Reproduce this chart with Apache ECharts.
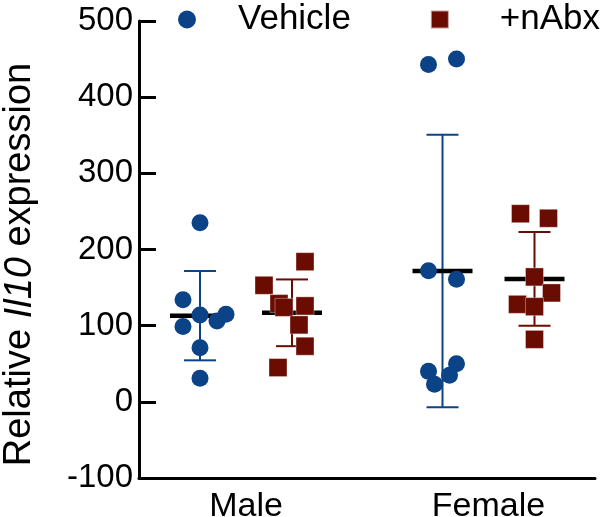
<!DOCTYPE html>
<html>
<head>
<meta charset="utf-8">
<script src="https://cdn.jsdelivr.net/npm/echarts@6/dist/echarts.min.js"></script>
<style>html,body{margin:0;padding:0;background:#fff;}#c{width:600px;height:517px;}</style>
</head>
<body>
<div id="c"></div>
<script>
// ---- data ----
var groups = ['Male', 'Female'];
var seriesNames = ['Vehicle', '+nAbx'];
var yTicks = [-100, 0, 100, 200, 300, 400, 500];
var maleVehicle = [235, 134, 114, 99, 106, 115, 71, 31];
var maleVehicleJitter = [0, -0.17, 0, -0.17, 0.17, 0.26, 0, 0];
var maleAbx = [184, 153, 129, 124, 126, 101, 73, 45];
var maleAbxJitter = [0.13, -0.28, -0.13, -0.08, 0.13, 0.07, 0.13, -0.14];
var femaleVehicle = [443, 450, 172, 161, 40, 50, 35, 23];
var femaleVehicleJitter = [-0.14, 0.14, -0.14, 0.14, -0.14, 0.14, 0.07, -0.08];
var femaleAbx = [247, 241, 164, 143, 128, 125, 82];
var femaleAbxJitter = [-0.14, 0.14, 0, 0.17, -0.17, 0, 0];

// ---- layout ----
var groupCenters = [1.07, 3.495];
var seriesOffsets = [-0.46, 0.46];
var colors = ['#0b4386', '#6b0c02'];
var FONT = 'Liberation Sans, Arial, sans-serif';

var sets = [
  [[maleVehicle, maleVehicleJitter], [maleAbx, maleAbxJitter]],
  [[femaleVehicle, femaleVehicleJitter], [femaleAbx, femaleAbxJitter]]
];

function mean(a){ var s=0; a.forEach(function(v){s+=v;}); return s/a.length; }
function sd(a){ var m=mean(a), s=0; a.forEach(function(v){s+=(v-m)*(v-m);}); return Math.sqrt(s/(a.length-1)); }

var scatterSeries = [], customSeries = [];
seriesNames.forEach(function(name, si){
  var pts = [], stats = [];
  groups.forEach(function(g, gi){
    var vals = sets[gi][si][0], jit = sets[gi][si][1];
    var cx = groupCenters[gi] + seriesOffsets[si];
    vals.forEach(function(v, k){ pts.push([cx + jit[k], v]); });
    stats.push([cx, mean(vals), sd(vals)]);
  });
  customSeries.push({
    type: 'custom',
    name: name + ' stats',
    z: 2,
    silent: true,
    data: stats,
    renderItem: function(params, api){
      var x = api.value(0), m = api.value(1), s = api.value(2);
      var pm = api.coord([x, m]), pt = api.coord([x, m + s]), pb = api.coord([x, m - s]);
      var col = colors[si];
      var st = {stroke: col, lineWidth: 2};
      return {type: 'group', children: [
        {type: 'line', shape: {x1: pt[0], y1: pt[1], x2: pb[0], y2: pb[1]}, style: st},
        {type: 'line', shape: {x1: pt[0]-16, y1: pt[1], x2: pt[0]+16, y2: pt[1]}, style: st},
        {type: 'line', shape: {x1: pb[0]-16, y1: pb[1], x2: pb[0]+16, y2: pb[1]}, style: st},
        {type: 'line', shape: {x1: pm[0]-30, y1: pm[1], x2: pm[0]+30, y2: pm[1]}, style: {stroke: '#000', lineWidth: 4.5}}
      ]};
    }
  });
  scatterSeries.push({
    type: 'scatter',
    name: name,
    z: 5,
    symbol: si === 0 ? 'circle' : 'rect',
    symbolSize: si === 0 ? 17 : 18,
    itemStyle: si === 0 ? {color: colors[si], opacity: 1} :
      {color: colors[si], opacity: 1, borderColor: 'rgba(255,255,255,0.6)', borderWidth: 0.6},
    data: pts
  });
});

var chart = echarts.init(document.getElementById('c'), null, {renderer: 'canvas'});
chart.setOption({
  animation: false,
  backgroundColor: '#fff',
  textStyle: {fontFamily: FONT},
  legend: {
    top: 2,
    left: 178,
    width: 470,
    padding: 0,
    itemWidth: 18,
    itemHeight: 18,
    itemGap: 79,
    data: [
      {name: 'Vehicle', icon: 'circle'},
      {name: '+nAbx', icon: 'rect'}
    ],
    formatter: function(n){ return (n === 'Vehicle' ? '{g1|}' : '{g2|}') + n; },
    textStyle: {
      fontSize: 35, color: '#000', fontFamily: FONT,
      rich: {g1: {width: 37}, g2: {width: 46}}
    }
  },
  grid: {left: 139, right: 5, top: 21, bottom: 39, containLabel: false, outerBoundsMode: 'none'},
  xAxis: {
    type: 'value',
    min: 0,
    max: 4.56,
    splitLine: {show: false},
    axisLine: {show: true, onZero: false, lineStyle: {color: '#000', width: 3}},
    axisTick: {show: false},
    axisLabel: {
      show: true,
      customValues: groupCenters,
      margin: 12,
      fontSize: 34,
      color: '#000',
      fontFamily: FONT,
      formatter: function(v){
        for (var i = 0; i < groupCenters.length; i++) {
          if (Math.abs(v - groupCenters[i]) < 1e-6) return groups[i];
        }
        return '';
      }
    }
  },
  yAxis: {
    type: 'value',
    min: yTicks[0],
    max: yTicks[yTicks.length - 1],
    interval: 100,
    splitLine: {show: false},
    axisLine: {show: true, onZero: false, lineStyle: {color: '#000', width: 3}},
    axisTick: {show: true, inside: true, length: 17, lineStyle: {color: '#000', width: 3}},
    axisLabel: {fontSize: 33, color: '#000', margin: 6, fontFamily: FONT},
    name: 'Relative {i|Il10} expression',
    nameLocation: 'middle',
    nameRotate: 90,
    nameGap: 100,
    nameTextStyle: {
      fontSize: 38, color: '#000', fontFamily: FONT,
      padding: [0, 30, 0, 0],
      rich: {i: {fontSize: 38, fontStyle: 'italic', color: '#000', fontFamily: FONT}}
    }
  },
  series: customSeries.concat(scatterSeries)
});
</script>
</body>
</html>
